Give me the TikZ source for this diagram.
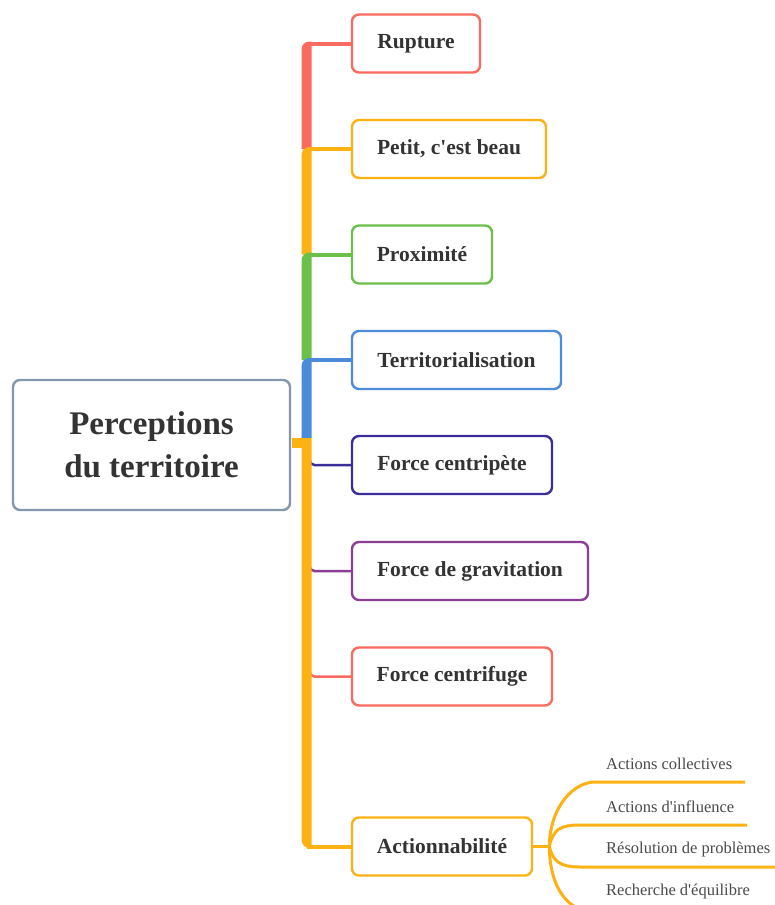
\documentclass[tikz,border=0pt]{standalone}
\usepackage{fontspec}
\setmainfont{Liberation Serif}
\usetikzlibrary{calc}
\definecolor{cRed}{HTML}{F86B5E}
\definecolor{cOr}{HTML}{FDB213}
\definecolor{cGr}{HTML}{6CC04A}
\definecolor{cBl}{HTML}{4C8ADA}
\definecolor{cInd}{HTML}{3B2E98}
\definecolor{cPu}{HTML}{8B3E93}
\definecolor{cMain}{HTML}{8597AD}
\definecolor{txt}{HTML}{333333}
\definecolor{subtxt}{HTML}{4A4A4A}
\pgfdeclarelayer{bg}
\pgfsetlayers{bg,main}
% top segment of the trunk: #1 colour, #2 node, #3 lower end
\newcommand\trunkseg[3]{%
  \draw[#1, line width=4pt] (t |- #2.west) -- (#2.west);
  \fill[#1] ($(t |- #3)+(-5,0)$) -- ($(t |- #2.west)+(-5,6)$)
    arc[start angle=180, end angle=270, radius=8]
    -- ($(t |- #2.west)+(5,-2)$) -- ($(t |- #3)+(5,0)$) -- cycle;}
\begin{document}
\begin{tikzpicture}[x=1pt,y=-1pt,
  box/.style={draw, rounded corners=7pt, line width=2.4pt, fill=white,
    minimum height=58pt, text=txt, inner sep=0pt,
    font=\fontsize{21.5}{25}\selectfont\bfseries},
  subitem/.style={text=subtxt, inner sep=0pt, anchor=west,
    font=\fontsize{16.5}{20}\selectfont},
  thinlink/.style={line width=2.5pt, rounded corners=5pt},
  sublink/.style={cOr, line width=3pt}]
\useasboundingbox (0,0) rectangle (775,905);
\clip (0,0) rectangle (775,905);

% nodes
\node[box, draw=cMain, minimum width=277pt, minimum height=130pt, align=center,
  font=\fontsize{33}{43}\selectfont\bfseries] (main) at (151.5,445) {Perceptions\\du territoire};
\node[box, draw=cRed, minimum width=128pt] (R) at (416,43.5) {Rupture};
\node[box, draw=cOr, minimum width=194pt] (P) at (449,149) {Petit, c\textquotesingle est beau};
\node[box, draw=cGr, minimum width=140pt] (X) at (422,254.5) {Proximité};
\node[box, draw=cBl, minimum width=209pt] (T) at (456.5,360) {Territorialisation};
\node[box, draw=cInd, minimum width=200pt] (FC) at (452,465) {Force centripète};
\node[box, draw=cPu, minimum width=236pt] (FG) at (470,571) {Force de gravitation};
\node[box, draw=cRed, minimum width=200pt] (FF) at (452,676.5) {Force centrifuge};
\node[box, draw=cOr, minimum width=180pt] (A) at (442,846.5) {Actionnabilité};

\node[subitem] (s1) at (606,764) {Actions collectives};
\node[subitem] (s2) at (606,807) {Actions d\textquotesingle influence};
\node[subitem] (s3) at (606,850) {Résolution de problèmes};
\node[subitem] (s4) at (606,892) {Recherche d\textquotesingle équilibre};

\coordinate (t) at (306.5,0);
\coordinate (stub) at ($(t |- main.east)+(0,-7)$);
\coordinate (fork) at ($(A.east)+(16,0)$);

\begin{pgfonlayer}{bg}
\fill[white] (0,0) rectangle (775,905);
% thin connectors of the force nodes
\draw[cInd, thinlink] ($(t |- FC.west)+(3,-8)$) -- ($(t |- FC.west)+(3,0)$) -- (FC.west);
\draw[cPu, thinlink] ($(t |- FG.west)+(3,-8)$) -- ($(t |- FG.west)+(3,0)$) -- (FG.west);
\draw[cRed, thinlink] ($(t |- FF.west)+(3,-8)$) -- ($(t |- FF.west)+(3,0)$) -- (FF.west);

% trunk segments
\trunkseg{cRed}{R}{P.west}
\trunkseg{cOr}{P}{X.west}
\trunkseg{cGr}{X}{T.west}
\trunkseg{cBl}{T}{stub}
% lower orange trunk
\draw[cOr, line width=4pt] (t |- A.west) -- (A.west);
\fill[cOr] ($(stub)+(-5,0)$) -- ($(t |- A.west)+(-5,-7)$)
  arc[start angle=180, end angle=90, radius=9]
  -- ($(t |- A.west)+(5,2)$) -- ($(stub)+(5,0)$) -- cycle;
\fill[cOr] ($(main.east)+(1,-7)$) rectangle ($(t |- main.east)+(0,3)$);

% sub branches
\draw[sublink] (A.east) -- (fork);
\draw[sublink] (fork) .. controls ($(fork)+(1,-42)$) and ($(s1.west)+(-31,18)$) .. ($(s1.west)+(-11,18)$) -- ($(s1.west)+(139,18)$);
\draw[sublink] (fork) .. controls ($(fork)+(4,-17)$) and ($(s2.west)+(-46,18)$) .. ($(s2.west)+(-26,18)$) -- ($(s2.west)+(141,18)$);
\draw[sublink] (fork) .. controls ($(fork)+(4,15)$) and ($(s3.west)+(-46,17)$) .. ($(s3.west)+(-26,17)$) -- ($(s3.west)+(169,17)$);
\draw[sublink] (fork) .. controls ($(fork)+(1,45)$) and ($(s4.west)+(-36,20)$) .. ($(s4.west)+(-11,20)$) -- ($(s4.west)+(139,20)$);
\end{pgfonlayer}
\end{tikzpicture}
\end{document}
